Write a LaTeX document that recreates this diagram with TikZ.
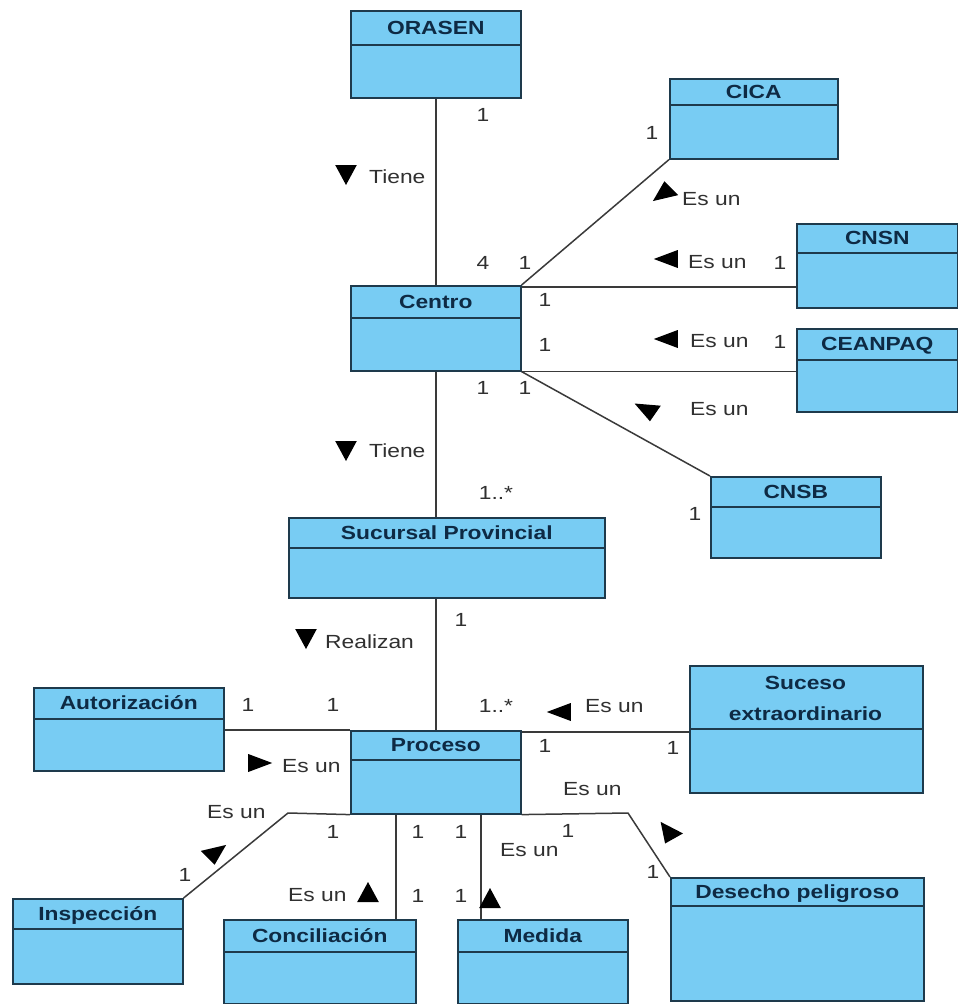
\documentclass[tikz,border=0pt]{standalone}
\usepackage{fontspec}
\setmainfont{Liberation Sans}
\usepackage{graphicx}
\definecolor{boxfill}{HTML}{78CCF3}
\definecolor{boxdraw}{HTML}{1E3A4C}
\definecolor{titlec}{HTML}{0E2A44}
\definecolor{linec}{HTML}{3A3A3A}
\definecolor{lblc}{HTML}{303030}
\newcommand{\wide}[1]{\scalebox{1.2}[1]{#1}}
\tikzset{
 clsbox/.style={draw=boxdraw, fill=boxfill, line width=1.6pt, anchor=north west, inner sep=0pt, rectangle},
 hdrline/.style={draw=boxdraw, line width=1.6pt},
 title/.style={font=\fontsize{19}{31}\selectfont\bfseries, text=titlec, inner sep=0pt, align=center},
 onel/.style={text height=13.6pt, text depth=0pt},
 lbl/.style={font=\fontsize{19}{22}\selectfont, text=lblc, inner sep=0pt, text height=13.6pt, text depth=0pt},
 conn/.style={draw=linec, line width=1.5pt},
 tri/.pic={\fill[black, xscale=1.2] ({-(#1)}:11) -- ({-(#1)+135}:12.73) -- ({-(#1)-135}:12.73) -- cycle;}
}
% name, left, top, width, height, header y, title
\newcommand{\umlclass}[7]{%
  \node[clsbox, minimum width=#4pt, minimum height=#5pt] (#1) at (#2,#3) {};
  \draw[hdrline] (#1.west |- 0,#6) -- (#1.east |- 0,#6);
  \path (#1.north) -- (#1.north |- 0,#6) node[midway, title, onel] (#1-t) {\wide{#7}};
}
\begin{document}
\begin{tikzpicture}[x=1pt,y=-1pt]
\useasboundingbox (0,0) rectangle (958,1004);
\fill[white] (0,0) rectangle (958,1004);

\umlclass{orasen}{350}{10}{170}{87}{45}{ORASEN}
\umlclass{cica}{669}{78}{168}{80}{105}{CICA}
\umlclass{cnsn}{796}{223}{161}{84}{253}{CNSN}
\umlclass{ceanpaq}{796}{328}{161}{83}{360}{CEANPAQ}
\umlclass{centro}{350}{285}{170}{85}{318}{Centro}
\umlclass{cnsb}{710}{476}{170}{81}{507}{CNSB}
\umlclass{sucursal}{288}{517}{316}{80}{548}{Sucursal Provincial}
\umlclass{autorizacion}{33}{687}{190}{83}{719}{Autorización}
\umlclass{proceso}{350}{730}{170}{83}{760}{Proceso}
\node[clsbox, minimum width=233pt, minimum height=127pt] (suceso) at (689,665) {};
\draw[hdrline] (suceso.west |- 0,729) -- (suceso.east |- 0,729);
\node[title] (suceso-t) at (805.5,698) {\wide{Suceso}\\\wide{extraordinario}};
\umlclass{inspeccion}{12}{898}{170}{85}{929}{Inspección}
\umlclass{conciliacion}{223}{919}{192}{84}{952}{Conciliación}
\umlclass{medida}{457}{919}{170}{84}{952}{Medida}
\umlclass{desecho}{670}{877}{253}{123}{906}{Desecho peligroso}

% connectors
\draw[conn] (orasen.south) -- (centro.north);
\draw[conn] (centro.south) -- (centro.south |- sucursal.north);
\draw[conn] (sucursal.south -| proceso.north) -- (proceso.north);
\draw[conn] (centro.north east) -- (cica.south west);
\draw[conn] ([yshift=-2pt]centro.north east) -- ([yshift=-2pt]centro.north east -| cnsn.west);
\draw[conn] (centro.south east) -- (centro.south east -| ceanpaq.west);
\draw[conn] (centro.south east) -- (cnsb.north west);
\draw[conn] (autorizacion.east |- proceso.north west) -- (proceso.north west);
\draw[conn] ([yshift=-2pt]proceso.north east) -- ([yshift=-2pt]proceso.north east -| suceso.west);
\coordinate (bendI) at (288,813);
\draw[conn] (proceso.south west) -- (bendI) -- (inspeccion.north east);
\draw[conn] ([xshift=-40pt]proceso.south) -- ([xshift=-40pt]proceso.south |- conciliacion.north);
\draw[conn] ([xshift=45pt]proceso.south) -- ([xshift=45pt]proceso.south |- medida.north);
\coordinate (bendD) at (628,813);
\draw[conn] (proceso.south east) -- (bendD) -- (desecho.north west);

% direction triangles
\pic at (346,174) {tri=270};
\pic at (346,450) {tri=270};
\pic at (306,638) {tri=270};
\pic at (663,194) {tri=220};
\pic at (667,259) {tri=180};
\pic at (667,339) {tri=180};
\pic at (646,409) {tri=150};
\pic at (259,763) {tri=0};
\pic at (560,712) {tri=180};
\pic at (216,852) {tri=40};
\pic at (368,893) {tri=90};
\pic at (490,899) {tri=90};
\pic at (668,831) {tri=124};

% association labels
\node[lbl, anchor=west] (l1) at (369,177) {\wide{Tiene}};
\node[lbl, anchor=west] (l2) at (369,451) {\wide{Tiene}};
\node[lbl, anchor=west] (l3) at (325,642) {\wide{Realizan}};
\node[lbl, anchor=west] (l4) at (682,199) {\wide{Es un}};
\node[lbl, anchor=west] (l5) at (688,262) {\wide{Es un}};
\node[lbl, anchor=west] (l6) at (690,341) {\wide{Es un}};
\node[lbl, anchor=west] (l7) at (690,409) {\wide{Es un}};
\node[lbl, anchor=west] (l8) at (585,706) {\wide{Es un}};
\node[lbl, anchor=west] (l9) at (282,766) {\wide{Es un}};
\node[lbl, anchor=west] (l10) at (207,812) {\wide{Es un}};
\node[lbl, anchor=west] (l11) at (288,895) {\wide{Es un}};
\node[lbl, anchor=west] (l12) at (500,850) {\wide{Es un}};
\node[lbl, anchor=west] (l13) at (563,789) {\wide{Es un}};

% multiplicities
\node[lbl] (m1) at (483,115) {\wide{1}};
\node[lbl] (m2) at (483,263) {\wide{4}};
\node[lbl] (m3) at (525,263) {\wide{1}};
\node[lbl] (m4) at (652,133) {\wide{1}};
\node[lbl] (m5) at (545,300) {\wide{1}};
\node[lbl] (m6) at (780,263) {\wide{1}};
\node[lbl] (m7) at (545,345) {\wide{1}};
\node[lbl] (m8) at (780,342) {\wide{1}};
\node[lbl] (m9) at (483,388) {\wide{1}};
\node[lbl] (m10) at (525,388) {\wide{1}};
\node[lbl] (m11) at (695,514) {\wide{1}};
\node[lbl] (m12) at (496,493) {\wide{1..*}};
\node[lbl] (m13) at (461,620) {\wide{1}};
\node[lbl] (m14) at (496,706) {\wide{1..*}};
\node[lbl] (m15) at (248,705) {\wide{1}};
\node[lbl] (m16) at (333,705) {\wide{1}};
\node[lbl] (m17) at (545,746) {\wide{1}};
\node[lbl] (m18) at (673,748) {\wide{1}};
\node[lbl] (m19) at (333,832) {\wide{1}};
\node[lbl] (m20) at (185,875) {\wide{1}};
\node[lbl] (m21) at (418,832) {\wide{1}};
\node[lbl] (m22) at (418,896) {\wide{1}};
\node[lbl] (m23) at (461,832) {\wide{1}};
\node[lbl] (m24) at (461,896) {\wide{1}};
\node[lbl] (m25) at (568,831) {\wide{1}};
\node[lbl] (m26) at (653,872) {\wide{1}};
\end{tikzpicture}
\end{document}
